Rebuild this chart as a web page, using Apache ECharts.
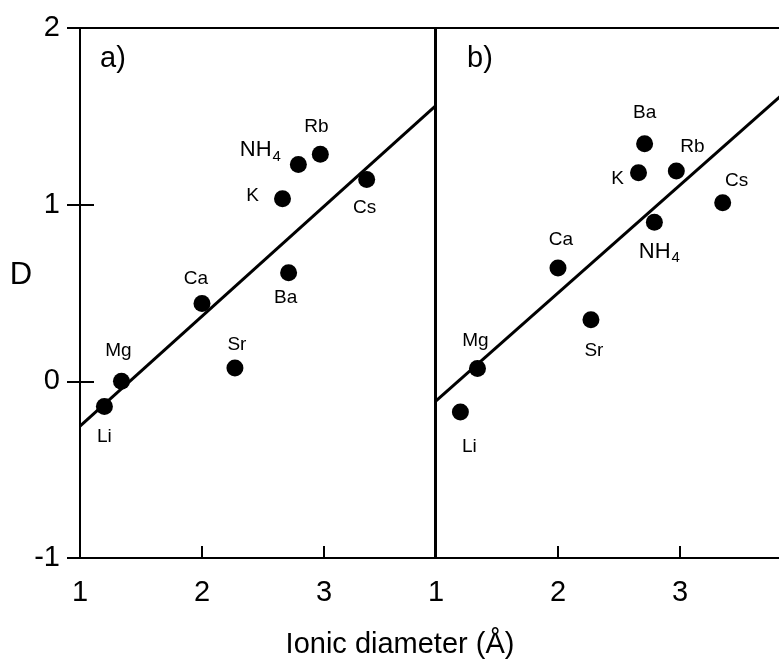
<!DOCTYPE html>
<html>
<head>
<meta charset="utf-8">
<script src="https://cdn.jsdelivr.net/npm/echarts@6/dist/echarts.min.js"></script>
<style>
html,body{margin:0;padding:0;background:#fff;overflow:hidden;width:779px;height:666px;}
#c{width:800px;height:666px;}
</style>
</head>
<body>
<div id="c"></div>
<script>
// ---- data ----
const ions = ['Li', 'Mg', 'Ca', 'Sr', 'Ba', 'K', 'NH4', 'Rb', 'Cs'];
const diameter = [1.20, 1.34, 2.00, 2.27, 2.71, 2.66, 2.79, 2.97, 3.35];
const dA = [-0.143, 0.0, 0.44, 0.075, 0.615, 1.034, 1.228, 1.285, 1.143];
const dB = [-0.174, 0.072, 0.641, 0.349, 1.345, 1.181, 0.90, 1.19, 1.011];
const fitX = [1, 3.91];
const fitA = [-0.253, 1.556];
const fitB = [-0.111, 1.667];
const xTicks = [1, 2, 3];
const yTicks = [-1, 0, 1, 2];

// ---- styles (label offsets, px) ----
const offA = {Li:[0,30], Mg:[-3,-31], Ca:[-6,-25], Sr:[2,-23], Ba:[-3,25], K:[-30,-3], NH4:[-38,-14], Rb:[-4,-28], Cs:[-2,28]};
const offB = {Li:[9,35], Mg:[-2,-28], Ca:[3,-28], Sr:[3,31], Ba:[0,-31], K:[-21,6], NH4:[5,30], Rb:[16,-24], Cs:[14,-22]};

const FONT = '"Liberation Sans", Arial, Helvetica, sans-serif';
const chart = echarts.init(document.getElementById('c'), null, {renderer: 'canvas', width: 800, height: 666});

function pts(ys, offs) {
  return ions.map((n, i) => ({
    value: [diameter[i], ys[i]],
    name: n,
    label: {
      show: true,
      position: 'inside',
      offset: offs[n],
      formatter: n === 'NH4' ? '{n|NH}{s|4}' : n,
      color: '#000',
      opacity: 1,
      fontFamily: FONT,
      fontSize: 19,
      rich: {
        n: {fontSize: 22, fontFamily: FONT, color: '#000'},
        s: {fontSize: 15, fontFamily: FONT, color: '#000', padding: [12, 0, 0, 1]}
      }
    }
  }));
}

const gridH = 530, gridTop = 28, gridW = 355;

function xAxisDef(gi) {
  return {
    type: 'value', gridIndex: gi, min: 1, max: 3.91, interval: 1,
    axisLine: {show: true, onZero: false, lineStyle: {color: '#000', width: 2}},
    axisTick: {show: true, inside: true, length: 12, lineStyle: {color: '#000', width: 2}},
    axisLabel: {show: true, margin: 20, color: '#000', fontSize: 29, fontFamily: FONT,
      formatter: v => (xTicks.indexOf(v) >= 0 ? String(v) : '')},
    splitLine: {show: false}
  };
}

const option = {
  animation: false,
  backgroundColor: '#fff',
  grid: [
    {left: 80, top: gridTop, width: gridW, height: gridH, show: true, borderColor: '#000', borderWidth: 2, backgroundColor: 'transparent'},
    {left: 436, top: gridTop, width: gridW, height: gridH, show: true, borderColor: '#000', borderWidth: 2, backgroundColor: 'transparent'}
  ],
  xAxis: [xAxisDef(0), xAxisDef(1)],
  yAxis: [
    {
      type: 'value', gridIndex: 0, min: -1, max: 2, interval: 1, offset: 13,
      axisLine: {show: false, onZero: false},
      axisTick: {show: true, inside: true, length: 27, lineStyle: {color: '#000', width: 2}},
      axisLabel: {show: true, margin: 7, color: '#000', fontSize: 29, fontFamily: FONT,
        formatter: v => (yTicks.indexOf(v) >= 0 ? String(v) : '')},
      splitLine: {show: false}
    },
    {
      type: 'value', gridIndex: 1, min: -1, max: 2, interval: 1,
      axisLine: {show: true, onZero: false, lineStyle: {color: '#000', width: 2}},
      axisTick: {show: false},
      axisLabel: {show: false},
      splitLine: {show: false}
    }
  ],
  series: [
    {type: 'line', xAxisIndex: 0, yAxisIndex: 0, data: fitX.map((x, i) => [x, fitA[i]]),
      symbol: 'none', lineStyle: {color: '#000', width: 3}, silent: true, z: 2},
    {type: 'line', xAxisIndex: 1, yAxisIndex: 1, data: fitX.map((x, i) => [x, fitB[i]]),
      symbol: 'none', lineStyle: {color: '#000', width: 3}, silent: true, z: 2},
    {type: 'scatter', xAxisIndex: 0, yAxisIndex: 0, data: pts(dA, offA),
      symbol: 'circle', symbolSize: 17, itemStyle: {color: '#000', opacity: 1}, z: 3},
    {type: 'scatter', xAxisIndex: 1, yAxisIndex: 1, data: pts(dB, offB),
      symbol: 'circle', symbolSize: 17, itemStyle: {color: '#000', opacity: 1}, z: 3}
  ],
  graphic: [
    {type: 'text', left: 100, top: 44, style: {text: 'a)', fontSize: 29, fontFamily: FONT, fill: '#000'}},
    {type: 'text', left: 467, top: 44, style: {text: 'b)', fontSize: 29, fontFamily: FONT, fill: '#000'}},
    {type: 'text', x: 21, y: 275, style: {text: 'D', fontSize: 31, fontFamily: FONT, fill: '#000', align: 'center', verticalAlign: 'middle'}},
    {type: 'text', x: 400, y: 645, style: {text: 'Ionic diameter (Å)', fontSize: 29, fontFamily: FONT, fill: '#000', align: 'center', verticalAlign: 'middle'}}
  ]
};
chart.setOption(option);
</script>
</body>
</html>
